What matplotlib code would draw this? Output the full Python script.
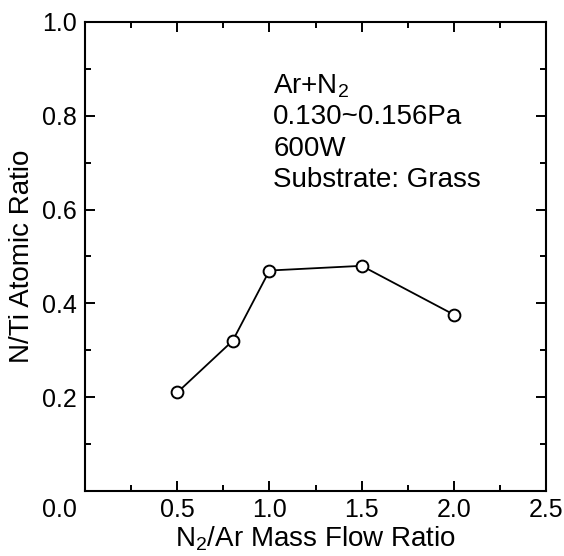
import numpy as np
import matplotlib
matplotlib.use('Agg')
from matplotlib import pyplot as plt
from matplotlib.ticker import MultipleLocator
import matplotlib.transforms as mtransforms

plt.rcParams['font.family'] = ['Liberation Sans', 'DejaVu Sans']
plt.rcParams['mathtext.fontset'] = 'custom'
plt.rcParams['mathtext.rm'] = 'Liberation Sans'

# N2/Ar flow ratio vs N/Ti atomic ratio
flow_ratio = [0.5, 0.8, 1.0, 1.5, 2.0]
nti_ratio = [0.21, 0.32, 0.47, 0.48, 0.376]

x_ticks = [0.0, 0.5, 1.0, 1.5, 2.0, 2.5]
y_ticks = [0.0, 0.2, 0.4, 0.6, 0.8, 1.0]

conditions = ['Ar+N$_2$', '0.130~0.156Pa', '600W', 'Substrate: Grass']

fig = plt.figure(figsize=(5.64, 5.56), dpi=100)
ax = fig.add_axes([0.151, 0.117, 0.817, 0.8435])

ax.plot(flow_ratio, nti_ratio, '-o', color='black', lw=1.3,
        markersize=8.5, markerfacecolor='white', markeredgewidth=1.4)

ax.set_xlim(0, 2.5)
ax.set_ylim(0, 1.0)
ax.set_xticks(x_ticks)
ax.set_yticks(y_ticks)
ax.xaxis.set_minor_locator(MultipleLocator(0.25))
ax.yaxis.set_minor_locator(MultipleLocator(0.1))
ax.set_xticklabels(['%.1f' % v for v in x_ticks])
# the corner "0.0" is shared, so drop the one on the y axis
ax.set_yticklabels([''] + ['%.1f' % v for v in y_ticks[1:]])

ax.tick_params(which='both', direction='in', top=True, right=True,
               labelsize=18, width=1.4)
ax.tick_params(which='major', length=7.5)
ax.tick_params(which='minor', length=4)
ax.tick_params(axis='x', which='major', pad=5)
ax.tick_params(axis='y', which='major', pad=6)
for s in ax.spines.values():
    s.set_linewidth(1.5)

# shift the corner 0.0 label to the left of the origin
lab0 = ax.get_xticklabels()[0]
lab0.set_horizontalalignment('right')
lab0.set_transform(lab0.get_transform() +
                   mtransforms.ScaledTranslation(-0.08, 0, fig.dpi_scale_trans))

ax.set_xlabel('N$_2$/Ar Mass Flow Ratio', fontsize=20, labelpad=2)
ax.set_ylabel('N/Ti Atomic Ratio', fontsize=20, labelpad=5)

# condition lines, one per baseline
for i, line in enumerate(conditions):
    ax.text(0.408, 0.849 - i*0.067, line, transform=ax.transAxes,
            fontsize=20, va='baseline', ha='left')

fig.savefig('out.png', dpi=100)
